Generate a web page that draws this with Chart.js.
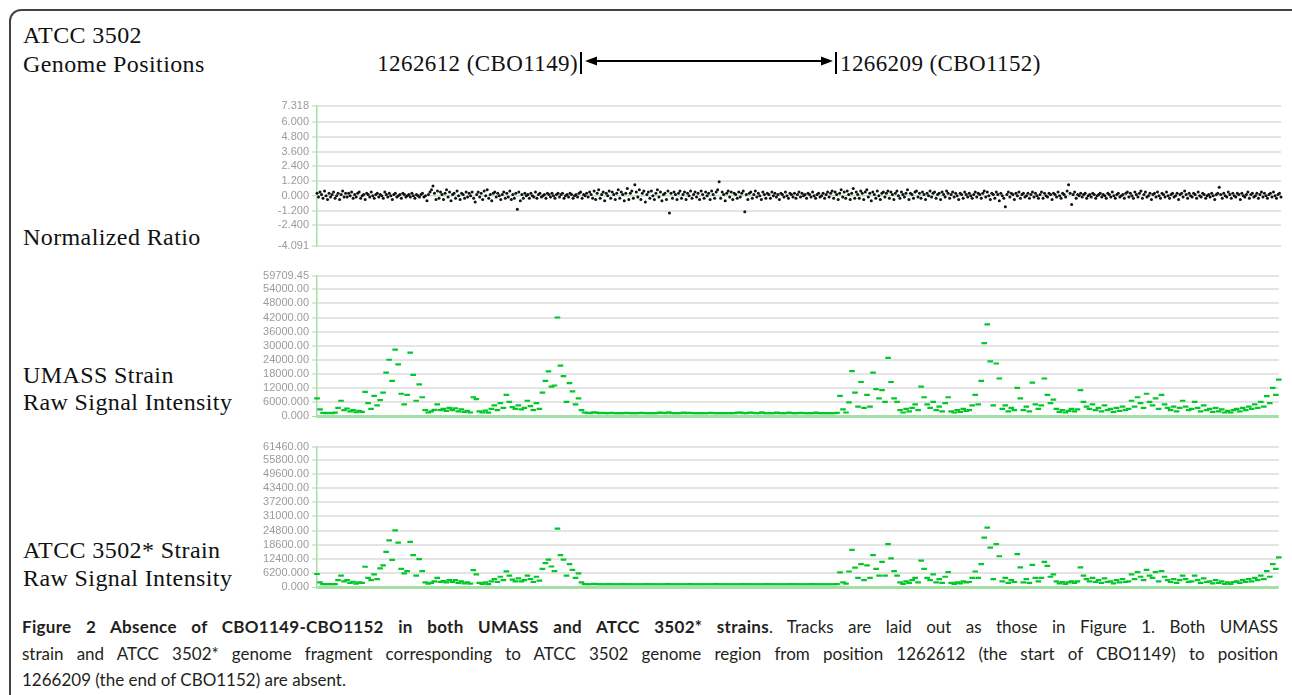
<!DOCTYPE html>
<html>
<head>
<meta charset="utf-8">
<script src="https://cdn.jsdelivr.net/npm/chart.js@4.4.1/dist/chart.umd.min.js"></script>
<style>
html,body{margin:0;padding:0;background:#fff;overflow:hidden}
body{width:1292px;height:695px;position:relative;font-family:"Liberation Serif",serif;color:#111}
#frame{position:absolute;left:9px;top:9px;width:1300px;height:740px;border:2px solid #444;border-radius:12px;box-sizing:border-box}
.lbl{position:absolute;left:23px;font-size:24px;letter-spacing:0.4px;white-space:nowrap;line-height:24px}
.pos{position:absolute;font-size:23px;letter-spacing:0.4px;white-space:nowrap;line-height:24px}
.plot{position:absolute;left:230px;width:1055px;height:164px}
#caption{position:absolute;left:22px;width:1256px;top:614px;font-family:"Lato",sans-serif;font-size:17px;color:#231f20;line-height:26.5px}
#caption b{letter-spacing:0.3px}
.cl{text-align:justify;text-align-last:justify}
</style>
</head>
<body>
<div id="frame"></div>
<div class="lbl" style="top:23px">ATCC 3502</div>
<div class="lbl" style="top:52px">Genome Positions</div>
<div class="pos" style="top:52px;right:714px">1262612 (CBO1149)</div>
<div class="pos" style="top:52px;left:840px">1266209 (CBO1152)</div>
<svg style="position:absolute;left:575px;top:45px" width="270" height="32">
  <line x1="6" y1="7" x2="6" y2="29" stroke="#000" stroke-width="2"/>
  <line x1="261" y1="7" x2="261" y2="29" stroke="#000" stroke-width="2"/>
  <line x1="16" y1="16" x2="252" y2="16" stroke="#000" stroke-width="2"/>
  <polygon points="10,16 22,11.5 22,20.5" fill="#000"/>
  <polygon points="258,16 246,11.5 246,20.5" fill="#000"/>
</svg>
<div class="lbl" style="top:225px">Normalized Ratio</div>
<div class="lbl" style="top:363px">UMASS Strain</div>
<div class="lbl" style="top:390px">Raw Signal Intensity</div>
<div class="lbl" style="top:538px">ATCC 3502* Strain</div>
<div class="lbl" style="top:566px">Raw Signal Intensity</div>

<div class="plot" style="top:94px"><canvas id="ratioChart"></canvas></div>
<div class="plot" style="top:264px"><canvas id="umassChart"></canvas></div>
<div class="plot" style="top:435px"><canvas id="atccChart"></canvas></div>

<div id="caption">
<div class="cl"><b>Figure 2 Absence of CBO1149-CBO1152 in both UMASS and ATCC 3502* strains</b>. Tracks are laid out as those in Figure 1. Both UMASS</div>
<div class="cl">strain and ATCC 3502* genome fragment corresponding to ATCC 3502 genome region from position 1262612 (the start of CBO1149) to position</div>
<div>1266209 (the end of CBO1152) are absent.</div>
</div>

<script>
// tick values / labels as printed on each track
const ratioTicks = [-4.091, -2.4, -1.2, 0, 1.2, 2.4, 3.6, 4.8, 6.0, 7.318];
const ratioTickLabels = ['-4.091', '-2.400', '-1.200', '0.000', '1.200', '2.400', '3.600', '4.800', '6.000', '7.318'];
const umassTicks = [0, 6000, 12000, 18000, 24000, 30000, 36000, 42000, 48000, 54000, 59709.45];
const umassTickLabels = ['0.000', '6000.000', '12000.00', '18000.00', '24000.00', '30000.00', '36000.00', '42000.00', '48000.00', '54000.00', '59709.45'];
const atccTicks = [0, 6200, 12400, 18600, 24800, 31000, 37200, 43400, 49600, 55800, 61460];
const atccTickLabels = ['0.000', '6200.000', '12400.00', '18600.00', '24800.00', '31000.00', '37200.00', '43400.00', '49600.00', '55800.00', '61460.00'];

// normalized ratio, two spots per probe
const ratio = [
.2,-.1,.3,.1,-.2,.4,0,-.3,.2,-.1,.1,.3,-.2,0,.2,-.3,.1,.4,-.1,.2,
-.1,.2,0,.3,-.2,.1,-.1,.2,.3,-.2,0,.1,-.3,.2,.1,-.1,.3,0,-.2,.1,
.2,-.1,.1,0,-.2,.3,.1,-.1,.2,0,-.3,.1,.2,-.1,0,.1,-.2,.2,.1,-.1,
0,.1,-.1,.2,0,-.2,.1,0,-.1,.1,.2,-.1,0,-.4,.1,.3,.5,.8,.2,-.3,
.4,-.2,.3,.1,-.3,.2,.5,-.1,.3,-.4,.1,.2,-.2,.4,0,-.3,.2,.1,-.2,.3,
-.1,.2,0,.3,-.2,-.5,.1,.3,-.1,.2,-.3,.4,0,.5,-.2,.1,-.4,.2,.3,-.1,
.2,0,-.3,.1,.3,-.2,.2,-.1,.4,-.3,.1,-.2,.2,-1.1,.3,-.4,.1,-.2,.2,0,
.1,-.2,.2,0,-.1,.3,-.2,.1,.2,-.1,0,.1,-.2,.2,.1,-.1,.2,0,-.2,.1,
.2,-.1,.1,.2,-.2,0,.1,-.1,.2,.1,-.2,0,.1,-.1,.2,.3,-.2,.1,0,.2,
-.1,.3,.1,-.2,.4,-.3,.2,.5,-.2,.1,.3,-.4,.2,0,.4,-.2,.3,.1,-.3,.2,
.5,-.2,.3,.1,-.4,.2,.6,-.3,.2,.4,-.2,.9,.3,-.1,.5,-.3,.2,.4,-.5,.1,
.3,-.2,.4,0,-.3,.2,.5,-.1,.3,-.4,.1,.2,-.3,.4,-1.4,.2,-.2,.3,.1,-.3,
.2,.4,-.2,.1,.3,-.3,.2,0,.4,-.2,.1,.3,-.1,.2,-.3,.4,.1,-.2,.3,0,
.2,-.3,.4,.1,-.2,.3,.5,1.15,-.2,.3,.1,-.4,.2,.4,-.1,.3,-.3,.2,.1,-.2,
.3,-.1,.2,.4,-1.3,.1,-.3,.2,.3,-.2,.1,.4,-.1,.2,0,-.3,.3,.1,-.2,.2,
.1,-.2,.3,0,.2,-.1,.1,-.3,.2,.1,-.1,.3,0,-.2,.2,.1,-.1,.2,-.2,.1,
.3,-.1,.2,0,.1,-.2,.2,.1,-.1,.3,0,-.2,.1,.2,-.1,0,.2,-.2,.1,.3,
-.1,.2,.4,-.2,.3,.1,-.3,.2,.5,-.1,.3,-.2,.4,.1,-.3,.2,.6,-.2,.3,.1,
-.2,.4,.2,-.3,.3,.5,-.1,.2,-.4,.3,.1,-.2,.4,0,-.3,.2,.3,-.1,.2,.4,
-.2,.3,.1,-.3,.2,.4,0,-.2,.3,.1,-.1,.2,.5,-.3,.2,.1,-.2,.3,.4,-.1,
.2,-.2,.3,.1,-.3,.2,0,.4,-.1,.2,.3,-.2,.1,.2,-.3,.3,.1,-.1,.4,.2,
-.2,.1,.3,-.1,.2,0,-.3,.2,.1,-.2,.3,.1,-.1,.2,0,-.2,.1,.3,-.1,.2,
.1,-.2,.2,.4,-.1,.3,0,-.3,.2,.1,-.2,.3,.1,-.4,.2,0,-.2,-.9,.1,.3,
-.1,.2,.1,-.3,.2,0,.3,-.2,.1,.2,-.1,0,.2,-.2,.1,.3,-.1,.2,0,-.2,
.1,.3,-.2,.2,0,-.1,.2,.1,-.3,.2,.1,-.1,.3,0,-.2,.2,.1,-.1,.4,.9,
.2,-.7,.1,.3,-.2,.1,0,.2,-.1,.1,.2,-.2,0,.1,-.1,.2,.1,-.2,0,.1,
.2,-.1,.1,0,-.2,.2,.1,-.1,.3,0,-.2,.1,.2,-.1,0,.1,-.2,.2,.3,-.1,
.2,0,-.2,.3,.1,-.1,.2,.4,-.2,.1,.3,-.1,0,.2,-.3,.1,.2,-.1,.3,0,
-.2,.2,.1,-.1,.3,0,-.2,.1,.2,-.1,0,.2,-.3,.1,.2,-.1,.4,.1,-.2,.2,
0,-.1,.2,.1,-.2,.3,0,-.1,.2,.1,-.2,0,.1,-.1,.2,0,-.3,.1,.2,.7,
.1,-.2,.2,0,-.1,.3,.1,-.2,.2,0,-.1,.2,.1,-.3,.2,0,-.1,.1,.3,-.2,
.1,.2,-.1,0,.2,-.2,.1,.3,-.1,.2,0,-.2,.1,.2,-.1,.3,0,-.2,.1,.2,-.1
];

// raw signal intensity, UMASS strain
const umass = [
7500,2800,1300,1200,1300,1200,1400,3500,6500,2500,
3200,2000,2500,1600,2200,1800,10300,5500,3000,8600,
4500,6800,10000,18500,24000,15000,28300,22000,9500,5000,
9000,27000,17500,6500,13500,8000,2500,1500,2000,2600,
5000,2500,3000,2200,3500,2500,3300,2000,2800,1800,
2200,1500,8000,7200,2000,1500,2300,1400,3000,4500,
2500,5500,3500,9000,6000,3800,3000,4500,2800,3500,
6500,4200,2500,5500,3000,10000,15000,19000,12500,13000,
42000,21500,17000,6000,14000,10500,5000,7500,2500,
1500,1300,1200,1600,1400,1200,1300,1200,1200,1300,1200,1200,
1200,1200,1300,1200,1200,1200,1200,1300,1200,1200,1200,1200,1200,1400,1300,1200,1600,1200,1200,1200,
1200,1500,1200,1300,1200,1200,1200,1200,1200,1200,1300,1200,1200,1200,1200,1200,1200,1200,1200,1500,
1400,1200,1200,1500,1300,1200,1200,1600,1200,1200,1200,1200,1400,1200,1200,1200,1500,1200,1200,1200,
1300,1200,1200,1200,1200,1400,1200,1200,1200,1200,1200,1200,1300,
8600,2800,1500,5800,19100,10000,4000,14500,3500,9000,
4000,18500,11500,7500,11000,6000,24800,14500,7500,6000,
2500,1500,3000,2000,3500,5000,2500,12500,8000,5000,
3500,6000,2500,4000,2000,5500,8000,2000,1500,2500,
1800,3000,2200,2500,4500,9000,5000,15000,31100,39100,
23300,4500,22400,16000,3000,4500,2000,3500,2500,12000,
7500,2500,4000,2000,14200,5000,3000,4500,16000,9000,
5500,7000,3000,1800,2500,1500,2200,3000,2000,2800,
11000,6000,4000,3000,5000,2500,3500,2000,4500,2500,
3000,1800,3500,2200,4000,2500,3000,6500,4000,8000,
5500,3500,9500,6000,4500,7500,3000,9000,5000,3500,
2500,4000,2000,3500,6500,4000,2500,3000,6000,3500,
2000,4500,2500,3000,1800,3500,2000,2800,1500,2200,
1500,2500,3000,2000,3500,2500,4000,3000,5000,3500,
6000,4000,8500,5500,12000,9000,15500
];

// raw signal intensity, ATCC 3502* strain
const atcc = [
5700,2000,1300,1200,1300,1200,1300,3000,5000,2500,
3000,1800,2300,1500,2000,1800,8900,4000,3000,5500,
3500,8200,9500,15400,20500,11900,24900,19500,8000,6000,
7000,19800,14000,5000,12200,7000,2000,1500,1800,2500,
4000,2200,2600,2000,3000,2200,3000,1800,2500,1600,
2000,1500,7400,5500,1800,1400,2000,1300,2500,3500,
2200,4500,3000,6900,5000,3200,2500,3800,2500,3000,
5000,3500,2200,4500,2800,8000,10500,12000,9000,7000,
25600,14000,12000,5000,10000,7500,4000,6000,2000,
1300,1200,1200,1400,1300,1200,1200,1200,1300,1200,1200,1200,
1200,1300,1200,1200,1200,1200,1200,1200,1200,1300,1200,1200,1200,1200,1200,1200,1300,1200,1200,1200,
1200,1200,1200,1300,1200,1200,1200,1200,1200,1200,1200,1200,1300,1200,1200,1200,1200,1200,1200,1200,
1200,1300,1200,1200,1200,1200,1200,1200,1200,1300,1200,1200,1200,1200,1200,1200,1200,1300,1200,1200,
1200,1200,1200,1200,1300,1200,1200,1200,1200,1200,1200,1200,1300,
6400,2000,1500,6800,16300,8500,4000,10000,3000,9500,
4000,14000,8000,5000,11000,5000,18800,12600,7000,5000,
2000,1400,2500,1800,3000,4000,2000,11600,8000,4000,
3000,5500,2000,3500,1800,4500,6500,1800,1400,2000,
1600,2500,2000,2200,4000,6800,4000,10000,21700,26100,
17300,3500,18800,13500,2500,4000,1800,3000,2200,14400,
8600,2000,3500,1800,9700,4000,2500,4000,11000,9300,
4500,5500,2500,1600,2200,1400,2000,2500,1800,2500,
8600,5000,3500,2500,4000,2200,3000,1800,3800,2200,
2500,1600,3000,2000,3500,2200,2500,5500,3500,6500,
4500,3000,7500,5000,4000,6500,2500,7000,4500,3000,
2200,3500,1800,3000,5000,3500,2200,2500,5000,3000,
1800,3800,2200,2500,1600,3000,1800,2500,1400,2000,
1400,2200,2500,1800,3000,2200,3500,2500,4000,3000,
5000,3500,7000,4500,10000,8000,13000
];

const green = 'rgb(0,200,40)';
const axisGreen = '#a6dfa6';

function yAxis(vals, labels, zeroColor, zeroWidth) {
  return {
    min: vals[0],
    max: vals[vals.length - 1],
    afterFit: s => { s.width = 87; },
    afterBuildTicks: s => { s.ticks = vals.map(v => ({ value: v })); },
    ticks: {
      autoSkip: false,
      padding: 3,
      color: '#9b9b9b',
      font: { family: 'Liberation Sans', size: 11 },
      callback: v => labels[vals.indexOf(v)]
    },
    grid: {
      color: c => (c.tick && c.tick.value === 0) ? zeroColor : '#e4e4e4',
      lineWidth: c => (c.tick && c.tick.value === 0) ? zeroWidth : 2,
      tickColor: axisGreen,
      tickLength: 5,
      tickWidth: 1
    },
    border: { color: axisGreen, width: 1.5 }
  };
}

function makeTrack(id, points, style, vals, labels, zeroColor, zeroWidth) {
  new Chart(document.getElementById(id), {
    type: 'scatter',
    data: { datasets: [Object.assign({ data: points, clip: 4 }, style)] },
    options: {
      responsive: true,
      maintainAspectRatio: false,
      animation: false,
      events: [],
      layout: { padding: { top: 12, bottom: 12, left: 0, right: 4 } },
      plugins: { legend: { display: false }, tooltip: { enabled: false } },
      scales: {
        x: { type: 'linear', min: 0, max: 320, display: false },
        y: yAxis(vals, labels, zeroColor, zeroWidth)
      }
    }
  });
}

const dashStyle = {
  pointStyle: 'line',
  pointRadius: 2.8,
  pointBorderWidth: 2.2,
  pointBorderColor: green,
  pointBackgroundColor: green
};

makeTrack('ratioChart', ratio.map((v, j) => ({ x: j / 2, y: v })), {
  pointRadius: 1.5,
  pointBorderWidth: 0,
  pointBackgroundColor: '#111'
}, ratioTicks, ratioTickLabels, '#bfe0bf', 1.5);

makeTrack('umassChart', umass.map((v, i) => ({ x: i, y: v })), dashStyle,
  umassTicks, umassTickLabels, axisGreen, 3);

makeTrack('atccChart', atcc.map((v, i) => ({ x: i, y: v })), dashStyle,
  atccTicks, atccTickLabels, axisGreen, 3);
</script>
</body>
</html>
